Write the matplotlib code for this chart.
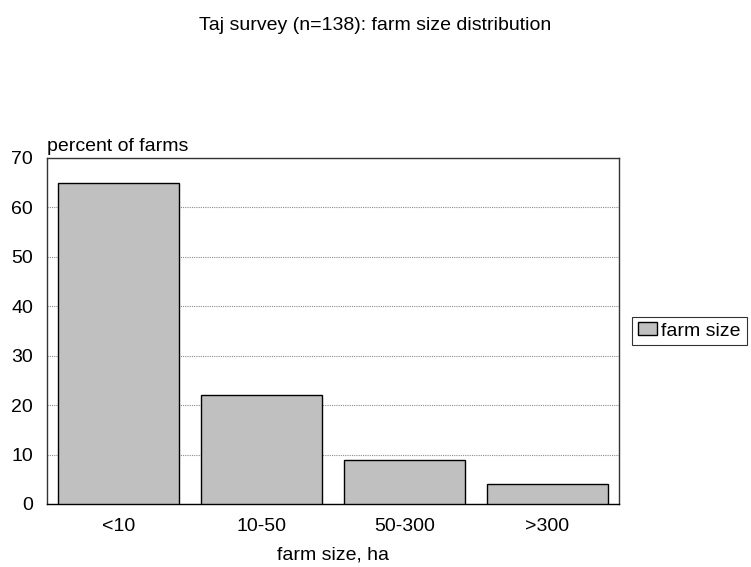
import matplotlib.pyplot as plt

# farm size classes and share of farms in each
categories = ['<10', '10-50', '50-300', '>300']
percent = [65, 22, 9, 4]

plt.rcParams['font.family'] = ['Liberation Sans', 'DejaVu Sans']
FS = 14

fig = plt.figure(figsize=(7.51, 5.67), dpi=100)
ax = fig.add_axes([47 / 751, 1 - 504 / 567, 572 / 751, 346 / 567])

x = range(len(categories))
ax.bar(x, percent, width=0.85, color='#C0C0C0', edgecolor='black',
       linewidth=1.0, label='farm size', zorder=3)

ax.set_xlim(-0.5, len(categories) - 0.5)
ax.set_ylim(0, 70)
ax.set_yticks(range(0, 71, 10))
ax.set_xticks(list(x))
ax.set_xticklabels(categories)
ax.tick_params(axis='both', length=0, labelsize=FS)
ax.tick_params(axis='x', pad=10)
ax.tick_params(axis='y', pad=10)

ax.yaxis.grid(True, color='#8c8c8c', linestyle=(0, (1, 1)), linewidth=0.8, zorder=0)
for s in ax.spines.values():
    s.set_linewidth(1.0)
    s.set_color('#333333')
ax.spines['bottom'].set_color('black')

ax.set_xlabel('farm size, ha', fontsize=FS, labelpad=8)
ax.text(0, 1.01, 'percent of farms', transform=ax.transAxes, fontsize=FS,
        ha='left', va='bottom')

fig.text(0.5, 1 - 25 / 567, 'Taj survey (n=138): farm size distribution',
         fontsize=FS, ha='center', va='center')

leg = ax.legend(loc='center left', bbox_to_anchor=(632 / 751, 1 - 331 / 567),
                bbox_transform=fig.transFigure, fontsize=FS, frameon=True,
                fancybox=False, handlelength=1.0, handleheight=0.6,
                handletextpad=0.2, borderpad=0.3, borderaxespad=0)
leg.get_frame().set_edgecolor('black')
leg.get_frame().set_linewidth(0.8)

plt.savefig('out.png', dpi=100)
